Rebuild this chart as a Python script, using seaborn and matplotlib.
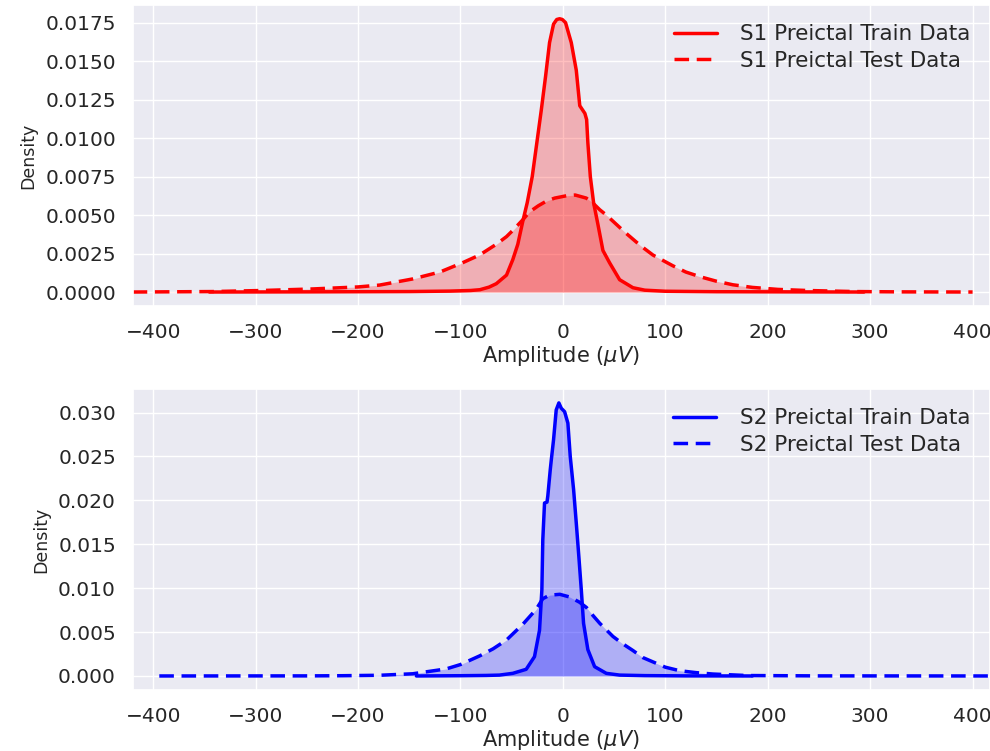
import numpy as np
import pandas as pd
import matplotlib
matplotlib.use("Agg")
import matplotlib.pyplot as plt
import seaborn as sns

# =====================================
# DATA (density curves)
# =====================================

s1_train_x = [-345, -250, -150, -110, -90, -81, -72, -65, -55, -48.9, -44, -39.1, -34.8,
              -29.9, -25.4, -21.1, -16.9, -13, -9.1, -6, -3.2, -0.5, 2.6, 8.2, 13.1, 16.5,
              21.5, 23.2, 24.4, 26.8, 30, 34.2, 39.1, 45.6, 55.4, 68.4, 80, 100, 150, 220, 294]
s1_train_y = [0, 0.00001, 0.00003, 0.00006, 0.0001, 0.00015, 0.00032, 0.00054, 0.0011,
              0.0021, 0.0031, 0.0046, 0.0058, 0.0075, 0.0097, 0.0118, 0.0140, 0.0162, 0.0174,
              0.0177, 0.01775, 0.0177, 0.0175, 0.0162, 0.0144, 0.0121, 0.0116, 0.0112, 0.0097,
              0.0075, 0.0058, 0.0044, 0.0027, 0.0019, 0.0008, 0.00028, 0.00012, 0.00005,
              0.00002, 0.00001, 0]

s1_test_x = [-420, -342, -293, -244, -200, -179, -146.6, -120, -98, -81.4, -65, -55, -48.9,
             -39, -32.6, -24, -16.2, -8, 3.3, 12, 22.9, 29, 35.9, 42.4, 48.9, 55.4, 62, 76, 88,
             107.5, 120, 133.6, 150, 166, 185, 210, 238, 285, 330, 400]
s1_test_y = [0, 0.00003, 0.0001, 0.0002, 0.00033, 0.00045, 0.00085, 0.0013, 0.0019, 0.0024,
             0.0031, 0.0036, 0.0040, 0.0047, 0.0052, 0.0056, 0.0059, 0.0061, 0.00625, 0.0063,
             0.0061, 0.0058, 0.00535, 0.0050, 0.0046, 0.0042, 0.0038, 0.0030, 0.0024, 0.0017,
             0.0013, 0.0010, 0.0007, 0.00047, 0.0003, 0.00017, 0.0001, 0.00003, 0.00001, 0]

s2_train_x = [-143, -100, -75, -61.9, -48.9, -35.8, -27.7, -22.8, -20.5, -19.6, -17.9,
              -15.5, -14.7, -12.3, -11.3, -9.1, -6.5, -3.9, -1.6, 1.7, 4.9, 7.2, 10.5, 13.1,
              15.6, 18, 20.2, 24.4, 31, 42.4, 55.4, 80, 120, 185]
s2_train_y = [0, 0.00003, 0.00006, 0.0001, 0.0003, 0.00076, 0.0022, 0.0052, 0.0098, 0.0155,
              0.0197, 0.0198, 0.0205, 0.0235, 0.0246, 0.0269, 0.0303, 0.0311, 0.0305, 0.0301,
              0.0288, 0.0250, 0.0212, 0.0174, 0.0136, 0.0098, 0.0060, 0.0030, 0.00106, 0.0003,
              0.0001, 0.00004, 0.00001, 0]

s2_test_x = [-394, -250, -215, -179, -146.6, -114, -100, -81, -68, -55, -39, -26, -19.6, -13,
             -3, 6.5, 16.3, 23, 29.3, 36, 48.9, 58, 68.4, 78, 88, 100, 114, 130, 146.6, 180,
             250, 420]
s2_test_y = [0, 0.00001, 0.00003, 0.00008, 0.00025, 0.0008, 0.0013, 0.0023, 0.0031, 0.0041,
             0.0059, 0.0076, 0.0088, 0.0092, 0.0093, 0.0090, 0.0084, 0.0078, 0.0069, 0.0060,
             0.0045, 0.0037, 0.0029, 0.0021, 0.0016, 0.0010, 0.0006, 0.00038, 0.00022,
             0.00005, 0.00001, 0]

x_ticks = [-400, -300, -200, -100, 0, 100, 200, 300, 400]
s1_y_ticks = [0.0, 0.0025, 0.005, 0.0075, 0.01, 0.0125, 0.015, 0.0175]
s2_y_ticks = [0.0, 0.005, 0.01, 0.015, 0.02, 0.025, 0.03]

# =====================================
# PLOT
# =====================================

sns.set_theme(style="darkgrid")
plt.rcParams["font.family"] = ["DejaVu Sans"]

fig = plt.figure(figsize=(9.9, 7.51), dpi=100)
ax1 = fig.add_axes([0.134, 0.5925, 0.866, 0.401])
ax2 = fig.add_axes([0.134, 0.0812, 0.866, 0.401])

panels = [
    (ax1, "S1", "red", s1_train_x, s1_train_y, s1_test_x, s1_test_y, s1_y_ticks,
     (-0.00091, 0.01865), "{:.4f}"),
    (ax2, "S2", "blue", s2_train_x, s2_train_y, s2_test_x, s2_test_y, s2_y_ticks,
     (-0.0016, 0.0327), "{:.3f}"),
]

for ax, name, col, trx, tr_y, tex, te_y, yt, ylim, fmt in panels:
    sns.lineplot(x=trx, y=tr_y, ax=ax, color=col, lw=2.5,
                 label=f"{name} Preictal Train Data")
    ax.fill_between(trx, tr_y, color=col, alpha=0.25, lw=0)
    sns.lineplot(x=tex, y=te_y, ax=ax, color=col, lw=2.5, linestyle=(0, (4.2, 2.2)),
                 label=f"{name} Preictal Test Data")
    ax.fill_between(tex, te_y, color=col, alpha=0.25, lw=0)

    ax.set_xlim(-420, 417)
    ax.set_ylim(*ylim)
    ax.set_xticks(x_ticks)
    ax.set_yticks(yt)
    ax.set_yticklabels([fmt.format(v) for v in yt])
    ax.tick_params(labelsize=14.5, pad=6)
    ax.set_xlabel(r"Amplitude ($\mu V$)", fontsize=15, labelpad=2)
    ax.set_ylabel("Density", fontsize=12.5, labelpad=6)
    ax.legend(loc="upper right", frameon=False, fontsize=15.5, handlelength=2.0,
              handletextpad=1.1, labelspacing=0.3, borderaxespad=0.5)

fig.savefig("out.png", dpi=100)
